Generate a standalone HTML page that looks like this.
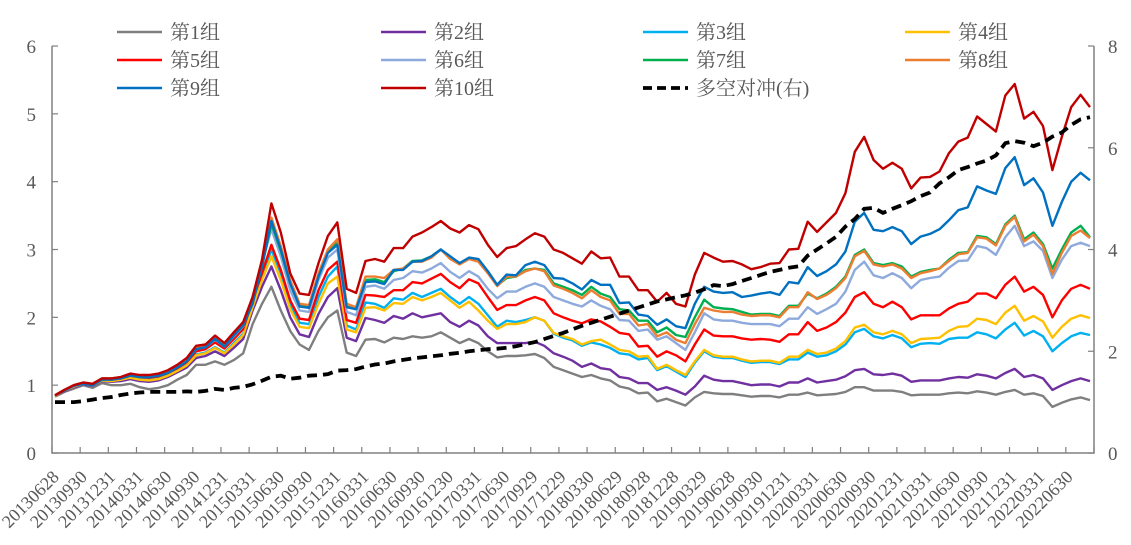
<!DOCTYPE html>
<html><head><meta charset="utf-8"><style>
body{margin:0;background:#fff}
svg text{font-family:"Liberation Serif","Noto Serif CJK SC",serif;fill:#595959}
</style></head><body>
<svg id="chart" width="1131" height="540" viewBox="0 0 1131 540" xmlns="http://www.w3.org/2000/svg">
<g id="grid"></g>
<g id="series"></g>
<g id="legend"></g>
</svg>
<script>
const xTickLabels=["20130628","20130930","20131231","20140331","20140630","20140930","20141231","20150331","20150630","20150930","20151231","20160331","20160630","20160930","20161230","20170331","20170630","20170929","20171229","20180330","20180629","20180928","20181228","20190329","20190628","20190930","20191231","20200331","20200630","20200930","20201231","20210331","20210630","20210930","20211231","20220331","20220630"];
const leftTicks=[0,1,2,3,4,5,6];
const rightTicks=[0,2,4,6,8];
const g1=[0.83,0.9,0.95,1.0,0.96,1.03,1.0,1.0,1.02,0.97,0.94,0.96,1.0,1.08,1.15,1.3,1.3,1.35,1.3,1.37,1.47, 1.9,2.2,2.45,2.1,1.8,1.6,1.52,1.8,2.0,2.1,1.48,1.43, 1.67,1.68,1.63,1.7,1.68,1.72,1.7,1.72,1.78,1.7,1.62,1.68,1.62,1.5,1.41, 1.43,1.43,1.44,1.46,1.4,1.27,1.22,1.17,1.12,1.15,1.1,1.07,0.98,0.95,0.88,0.89,0.76,0.8,0.75,0.7,0.82, 0.9,0.88,0.87,0.87,0.85,0.83,0.84,0.84,0.82,0.86,0.86,0.89,0.85,0.86,0.87,0.9,0.97, 0.97,0.92,0.92,0.92,0.9,0.85,0.86,0.86,0.86,0.88,0.89,0.88,0.91,0.89,0.86,0.9,0.93,0.86,0.88,0.84,0.68,0.74,0.79,0.82,0.78];
const g2=[0.84,0.91,0.97,1.01,0.99,1.06,1.05,1.06,1.09,1.06,1.05,1.07,1.12,1.19,1.26,1.4,1.43,1.5,1.43,1.55,1.68, 2.1,2.45,2.75,2.4,2.0,1.75,1.71,2.05,2.3,2.43,1.7,1.65, 1.99,1.96,1.92,2.02,1.98,2.06,2.0,2.03,2.06,1.93,1.86,1.95,1.88,1.72,1.62, 1.62,1.62,1.62,1.64,1.58,1.47,1.42,1.36,1.27,1.32,1.25,1.23,1.12,1.1,1.03,1.03,0.93,0.97,0.92,0.86,0.98, 1.14,1.08,1.06,1.06,1.03,1.0,1.01,1.01,0.98,1.04,1.04,1.1,1.04,1.06,1.08,1.13,1.22, 1.24,1.16,1.15,1.17,1.14,1.05,1.07,1.07,1.07,1.1,1.12,1.11,1.16,1.14,1.1,1.18,1.24,1.12,1.15,1.1,0.93,1.0,1.06,1.1,1.06];
const g3=[0.84,0.92,0.98,1.02,1.0,1.07,1.07,1.08,1.12,1.09,1.08,1.1,1.15,1.22,1.3,1.45,1.48,1.56,1.48,1.62,1.76, 2.2,2.6,3.0,2.65,2.2,1.92,1.9,2.3,2.6,2.75,1.88,1.82, 2.22,2.2,2.14,2.28,2.26,2.36,2.3,2.36,2.42,2.3,2.2,2.3,2.2,2.03,1.86, 1.95,1.93,1.96,2.0,1.95,1.76,1.7,1.66,1.58,1.63,1.6,1.55,1.47,1.45,1.38,1.4,1.22,1.28,1.2,1.12,1.33, 1.5,1.42,1.4,1.4,1.36,1.33,1.34,1.34,1.31,1.38,1.38,1.48,1.42,1.44,1.5,1.6,1.78, 1.83,1.72,1.69,1.74,1.69,1.56,1.61,1.62,1.61,1.68,1.7,1.7,1.78,1.75,1.69,1.82,1.92,1.73,1.8,1.72,1.5,1.62,1.72,1.77,1.74];
const g4=[0.84,0.92,0.98,1.02,1.0,1.07,1.06,1.08,1.11,1.08,1.07,1.09,1.14,1.21,1.29,1.44,1.47,1.55,1.47,1.6,1.74, 2.15,2.55,2.9,2.55,2.12,1.86,1.84,2.2,2.5,2.6,1.82,1.78, 2.14,2.15,2.1,2.21,2.2,2.3,2.25,2.3,2.36,2.25,2.14,2.23,2.1,1.95,1.83, 1.9,1.9,1.93,2.0,1.95,1.77,1.72,1.68,1.6,1.65,1.67,1.6,1.52,1.5,1.42,1.43,1.24,1.3,1.22,1.15,1.35, 1.52,1.44,1.42,1.42,1.38,1.35,1.36,1.36,1.33,1.42,1.42,1.52,1.46,1.48,1.54,1.65,1.85, 1.89,1.78,1.75,1.8,1.75,1.62,1.68,1.69,1.7,1.8,1.86,1.87,1.98,1.96,1.9,2.07,2.17,1.95,2.02,1.94,1.7,1.86,1.98,2.03,1.99];
const g5=[0.85,0.93,1.0,1.03,1.01,1.09,1.08,1.1,1.14,1.12,1.11,1.13,1.18,1.25,1.34,1.5,1.53,1.63,1.54,1.68,1.83, 2.25,2.65,3.07,2.7,2.25,1.98,1.96,2.4,2.7,2.82,1.96,1.92, 2.33,2.32,2.3,2.4,2.4,2.52,2.5,2.57,2.64,2.52,2.43,2.56,2.5,2.3,2.11, 2.18,2.18,2.25,2.3,2.25,2.06,2.0,1.95,1.91,1.97,1.94,1.86,1.77,1.75,1.57,1.58,1.42,1.5,1.44,1.35,1.6, 1.82,1.73,1.72,1.72,1.69,1.67,1.68,1.67,1.64,1.75,1.75,1.93,1.8,1.85,1.93,2.07,2.3, 2.37,2.2,2.15,2.23,2.15,1.97,2.03,2.03,2.03,2.13,2.2,2.23,2.35,2.35,2.28,2.48,2.6,2.38,2.45,2.33,2.0,2.25,2.42,2.48,2.42];
const g6=[0.85,0.93,1.0,1.03,1.01,1.09,1.09,1.11,1.15,1.13,1.13,1.15,1.2,1.27,1.36,1.53,1.56,1.67,1.57,1.72,1.87, 2.3,2.8,3.3,2.9,2.4,2.1,2.08,2.55,2.88,3.0,2.08,2.03, 2.45,2.47,2.42,2.55,2.58,2.68,2.66,2.72,2.8,2.67,2.58,2.68,2.6,2.42,2.28, 2.38,2.38,2.45,2.5,2.45,2.3,2.25,2.2,2.16,2.25,2.17,2.12,1.96,1.95,1.8,1.82,1.67,1.72,1.62,1.52,1.78, 2.06,1.97,1.95,1.95,1.92,1.9,1.9,1.9,1.87,1.98,1.98,2.15,2.05,2.12,2.2,2.38,2.7, 2.82,2.62,2.58,2.65,2.58,2.43,2.55,2.58,2.6,2.73,2.83,2.84,3.05,3.02,2.92,3.18,3.35,3.05,3.12,2.98,2.58,2.85,3.05,3.1,3.05];
const g7=[0.85,0.93,1.0,1.03,1.02,1.1,1.1,1.12,1.16,1.14,1.14,1.16,1.21,1.29,1.38,1.56,1.58,1.71,1.6,1.76,1.9, 2.25,2.75,3.38,2.98,2.5,2.17,2.15,2.62,2.98,3.1,2.16,2.12, 2.55,2.56,2.52,2.68,2.72,2.83,2.84,2.9,3.0,2.88,2.8,2.87,2.83,2.68,2.47, 2.58,2.6,2.7,2.72,2.7,2.5,2.45,2.4,2.33,2.45,2.35,2.3,2.12,2.1,1.95,1.95,1.78,1.85,1.74,1.71,2.0, 2.26,2.15,2.13,2.12,2.08,2.04,2.05,2.05,2.02,2.17,2.17,2.35,2.28,2.35,2.45,2.6,2.92, 3.0,2.8,2.77,2.8,2.75,2.6,2.67,2.7,2.72,2.85,2.95,2.96,3.2,3.18,3.08,3.37,3.5,3.15,3.25,3.08,2.72,3.0,3.25,3.35,3.18];
const g8=[0.85,0.93,1.0,1.03,1.02,1.1,1.1,1.12,1.16,1.14,1.14,1.16,1.21,1.29,1.38,1.56,1.59,1.71,1.61,1.76,1.91, 2.3,2.8,3.47,3.05,2.55,2.2,2.18,2.65,3.0,3.15,2.2,2.15, 2.6,2.6,2.58,2.7,2.72,2.82,2.82,2.88,3.0,2.86,2.78,2.86,2.82,2.65,2.46, 2.6,2.6,2.68,2.72,2.68,2.47,2.42,2.36,2.28,2.4,2.3,2.25,2.05,2.05,1.88,1.9,1.72,1.78,1.67,1.62,1.9, 2.14,2.1,2.08,2.08,2.04,2.02,2.03,2.03,2.0,2.15,2.15,2.37,2.27,2.33,2.43,2.58,2.9, 2.98,2.78,2.75,2.78,2.72,2.58,2.65,2.68,2.72,2.83,2.93,2.95,3.18,3.16,3.06,3.35,3.48,3.12,3.22,3.05,2.64,2.95,3.2,3.28,3.17];
const g9=[0.85,0.92,0.99,1.02,1.0,1.08,1.08,1.1,1.14,1.12,1.12,1.14,1.18,1.26,1.35,1.53,1.56,1.68,1.57,1.73,1.88, 2.2,2.75,3.42,3.0,2.5,2.16,2.14,2.6,2.95,3.07,2.15,2.12, 2.52,2.53,2.49,2.7,2.7,2.82,2.83,2.9,3.0,2.9,2.8,2.88,2.86,2.68,2.48, 2.63,2.62,2.77,2.82,2.77,2.58,2.57,2.5,2.41,2.55,2.48,2.48,2.21,2.22,2.04,2.02,1.89,1.97,1.87,1.84,2.2, 2.45,2.38,2.36,2.37,2.3,2.32,2.35,2.37,2.33,2.52,2.5,2.74,2.61,2.68,2.78,2.97,3.41, 3.54,3.29,3.27,3.33,3.27,3.08,3.19,3.23,3.3,3.43,3.58,3.62,3.93,3.87,3.82,4.2,4.36,3.95,4.05,3.84,3.35,3.7,4.0,4.13,4.02];
const g10=[0.85,0.93,1.0,1.04,1.02,1.1,1.1,1.12,1.17,1.15,1.15,1.17,1.22,1.3,1.4,1.58,1.6,1.73,1.62,1.78,1.93, 2.3,2.85,3.68,3.25,2.65,2.35,2.33,2.8,3.2,3.4,2.42,2.36, 2.83,2.86,2.82,3.02,3.02,3.19,3.25,3.33,3.42,3.31,3.25,3.36,3.3,3.07,2.89, 3.02,3.05,3.15,3.24,3.19,3.0,2.95,2.87,2.79,2.97,2.87,2.88,2.6,2.6,2.4,2.4,2.23,2.36,2.2,2.16,2.63, 2.95,2.88,2.82,2.83,2.78,2.71,2.74,2.79,2.8,3.0,3.01,3.41,3.26,3.4,3.54,3.83,4.44, 4.66,4.32,4.19,4.28,4.19,3.9,4.06,4.07,4.15,4.42,4.59,4.65,4.96,4.85,4.74,5.27,5.44,4.93,5.03,4.82,4.17,4.66,5.1,5.28,5.1];
const hedge=[1.0,1.0,1.0,1.02,1.05,1.08,1.1,1.14,1.17,1.19,1.2,1.2,1.2,1.2,1.21,1.2,1.22,1.26,1.24,1.28,1.3, 1.35,1.42,1.5,1.52,1.46,1.48,1.52,1.53,1.55,1.62,1.63,1.65, 1.7,1.74,1.76,1.8,1.83,1.86,1.88,1.9,1.92,1.95,1.97,2.0,2.02,2.04,2.05, 2.07,2.1,2.14,2.18,2.24,2.3,2.36,2.43,2.5,2.56,2.62,2.68,2.74,2.8,2.86,2.92,2.98,3.02,3.06,3.1,3.15, 3.22,3.3,3.28,3.32,3.38,3.44,3.5,3.56,3.6,3.64,3.67,3.88,4.0,4.12,4.25,4.45,4.6, 4.8,4.82,4.72,4.8,4.87,4.95,5.05,5.12,5.3,5.42,5.56,5.62,5.69,5.75,5.85,6.09,6.13,6.1,6.03,6.1,6.22,6.3,6.45,6.56,6.6];
const seriesNames=["第1组","第2组","第3组","第4组","第5组","第6组","第7组","第8组","第9组","第10组"];

const NS="http://www.w3.org/2000/svg";
const X0=52,X1=1094,Y0=453,Y1=46;
const N=g1.length;
function xPos(i){return 55+i*(1090-55)/(N-1);}
function yLeft(v){return Y0-(v/6)*(Y0-Y1);}
function yRight(v){return Y0-(v/8)*(Y0-Y1);}
function mk(tag,attrs,parent){const e=document.createElementNS(NS,tag);for(const k in attrs)e.setAttribute(k,attrs[k]);parent.appendChild(e);return e;}
const grid=document.getElementById('grid');
const sg=document.getElementById('series');
const lg=document.getElementById('legend');
const axc="#808080";
let ax=mk('path',{d:`M${X0},${Y1}V${Y0}H${X1}V${Y1}`,fill:'none',stroke:axc,'stroke-width':1.5},grid);


leftTicks.forEach(v=>{
  const y=yLeft(v);
  const t=mk('path',{d:`M${X0},${y}h6`,stroke:axc,'stroke-width':1.2},grid);
  
  
  const tx=mk('text',{x:36,y:y+7,'text-anchor':'end','font-size':19},grid);tx.textContent=v;
  
  
});
rightTicks.forEach(v=>{
  const y=yRight(v);
  const t=mk('path',{d:`M${X1},${y}h-6`,stroke:axc,'stroke-width':1.2},grid);
  
  
  const tx=mk('text',{x:1108,y:y+7,'font-size':19},grid);tx.textContent=v;
  
  
});
const step=(X1-X0)/37;
for(let k=0;k<=37;k++){
  const x=X0+k*step;
  const t=mk('path',{d:`M${x},${Y0}v-6`,stroke:axc,'stroke-width':1.2},grid);
  
  
}
xTickLabels.forEach((s,k)=>{
  const x=X0+k*step+8,y=478;
  const tx=mk('text',{x:x,y:y,'text-anchor':'end','font-size':18,transform:`rotate(-45 ${x} ${y})`},grid);
  tx.textContent=s;
  
  
});
const colors=["#7f7f7f","#7030a0","#00b0f0","#ffc000","#ff0000","#8eaadc","#00b050","#ed7d31","#0070c0","#c00000"];
const data=[g1,g2,g3,g4,g5,g6,g7,g8,g9,g10];
data.forEach((arr,s)=>{
  const d=arr.map((v,i)=>(i?'L':'M')+xPos(i).toFixed(1)+','+yLeft(v).toFixed(1)).join('');
  const p=mk('path',{d:d,fill:'none',stroke:colors[s],'stroke-width':2.4,'stroke-linejoin':'round'},sg);
  
  
});
const hd=hedge.map((v,i)=>(i?'L':'M')+xPos(i).toFixed(1)+','+yRight(v).toFixed(1)).join('');
const hp=mk('path',{d:hd,fill:'none',stroke:'#000','stroke-width':3.8,'stroke-dasharray':'10 6'},sg);


const colX=[117,381,643,905],rowY=[32,60,88];
const legItems=seriesNames.concat(["多空对冲(右)"]);
legItems.forEach((name,k)=>{
  const cx=colX[k%4],cy=rowY[Math.floor(k/4)];
  const isH=k===10;
  const ln=mk('path',{d:`M${cx},${cy}h45`,stroke:isH?'#000':colors[k],'stroke-width':isH?3.8:2.4,'stroke-dasharray':isH?'9 5':'none'},lg);
  
  
  const tx=mk('text',{x:cx+53,y:cy+7,'font-size':20},lg);
  tx.textContent=name;
  
  
});
</script>
</body></html>
